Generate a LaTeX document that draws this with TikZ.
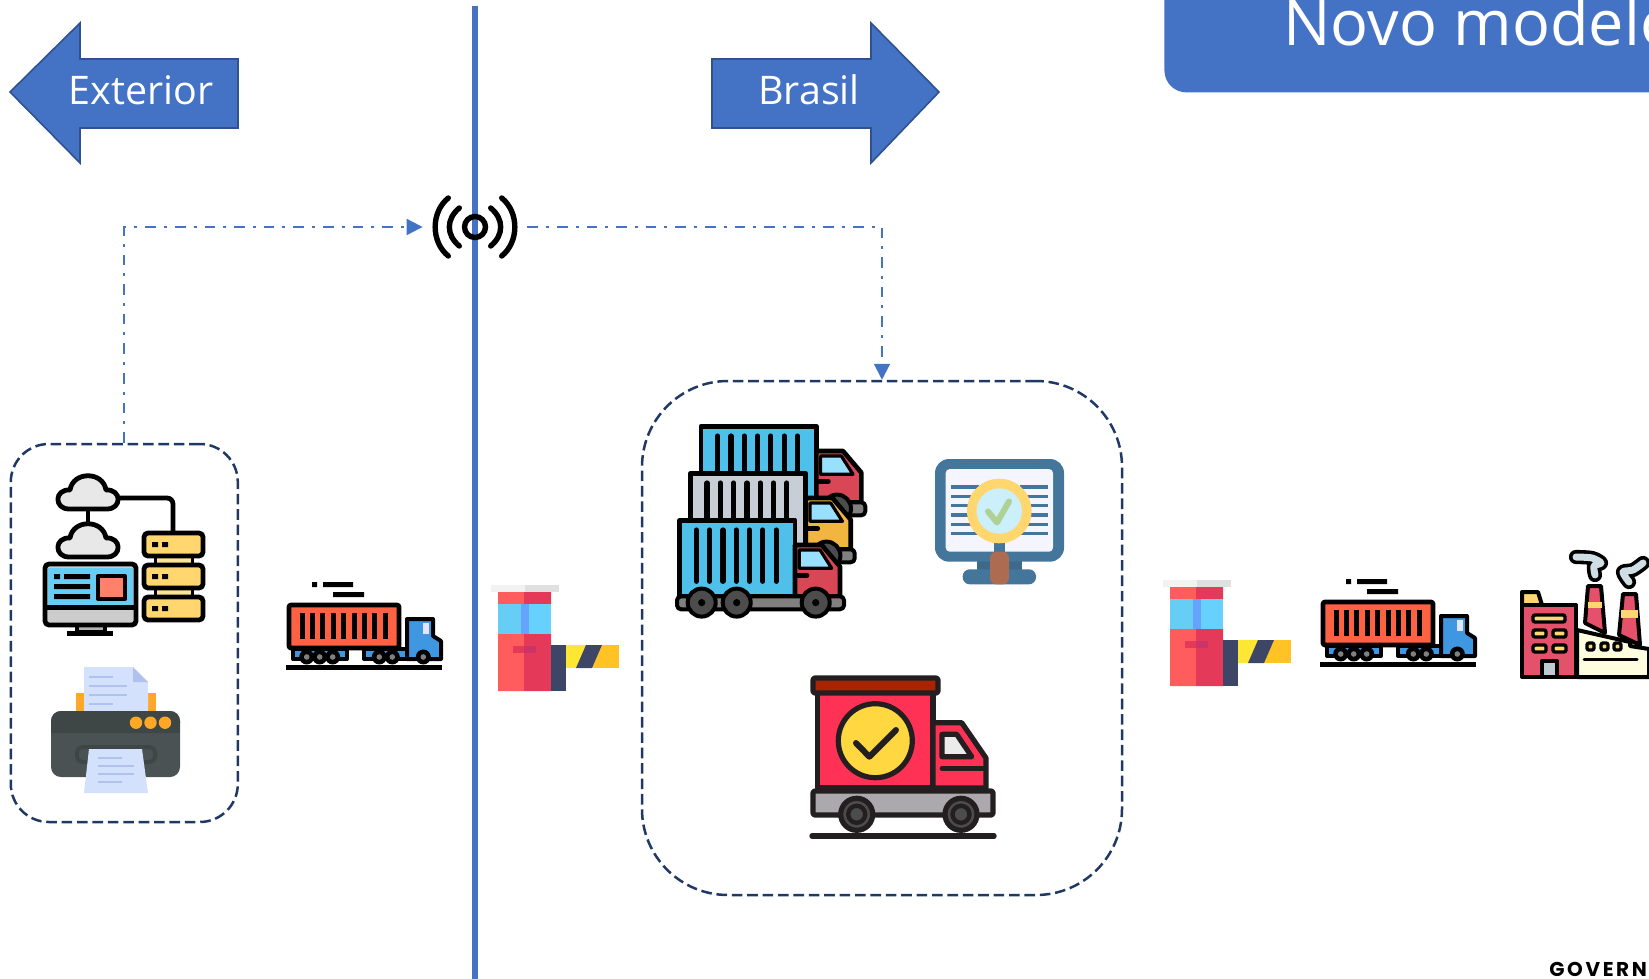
\documentclass[tikz,border=0pt]{standalone}
\usepackage{fontspec}
\setmainfont{Open Sans}
\newfontfamily\logofont[LetterSpace=13]{Poppins}
\usetikzlibrary{arrows.meta,calc}
\definecolor{azul}{HTML}{4472C4}
\definecolor{azulesc}{HTML}{2F528F}
\definecolor{naval}{HTML}{203864}
\definecolor{laranja}{HTML}{FF6243}
\definecolor{cabine}{HTML}{3E97E0}
\definecolor{contaz}{HTML}{4FC0EA}
\definecolor{contcz}{HTML}{C8CED6}
\definecolor{vermelho}{HTML}{D94655}
\definecolor{amarelo}{HTML}{F2B640}
\definecolor{pele}{HTML}{FF5D5D}
\definecolor{rosa}{HTML}{E5395A}
\definecolor{ardosia}{HTML}{3E4668}
\definecolor{papel}{HTML}{D4E1FD}
\definecolor{linhap}{HTML}{AFC2EE}
\definecolor{tinta}{HTML}{FFA726}
\definecolor{monit}{HTML}{44759B}
\definecolor{carvao}{HTML}{231F20}
\definecolor{ouro}{HTML}{FFD76E}
\definecolor{cereja}{HTML}{FF3155}
\definecolor{sol}{HTML}{FFD740}
\definecolor{telha}{HTML}{A82400}
\definecolor{chassi}{HTML}{ABA9AE}
\definecolor{fabric}{HTML}{E5506A}
\definecolor{fumo}{HTML}{CFDDE5}
\definecolor{corpo}{HTML}{4B5253}
\definecolor{tampa}{HTML}{3F4646}
\tikzset{
	seta/.style={draw=azulesc, fill=azul, line width=0.8pt, line join=miter},
	rotulo/.style={text=white, inner sep=0pt, font=\fontsize{19.7}{20}\selectfont},
	grupo/.style={draw=naval, line width=1.25pt, dash pattern=on 5.3pt off 2.4pt, inner sep=0pt},
	sinal/.style={draw=azul, line width=1pt, dash pattern=on 5.3pt off 4pt on 1.5pt off 4pt, -{Triangle[length=8pt,width=8pt]}},
	tr/.style={draw=black, line width=2pt, line join=round},
	tc/.style={draw=carvao, line width=2.6pt, line join=round},
	jan/.style={tr, line width=1.7pt, fill=ouro, rounded corners=1pt},
	pics/caminhao/.style={code={
				\fill (26,0) rectangle (31,5) (37,0) rectangle (67,5) (47,10) rectangle (78,15);
				\fill[black] (0,83) rectangle (156,88);
				\draw[tr,fill=cabine] (7,67) rectangle (61,77) (78,67) rectangle (124,77);
				\draw[tr,fill=cabine] (121,77) -- (121,37) -- (147,37) -- (147,54) -- (155,59) -- (155,77) -- cycle;
				\fill[blue!10] (137,41) rectangle (143,52);
				\draw[tr,line width=2.4pt,fill=laranja,rounded corners=1pt] (3,23) rectangle (113,66);
				\foreach \i in {0,...,8}
				\fill ({13.5+10.4*\i},31) rectangle ({18.5+10.4*\i},57);
				\foreach \i in {20.7,33.7,46.7,93.3,106.3,137.3}{
						\fill (\i,75) circle [radius=7.5];
						\fill[gray] (\i,75) circle [radius=2.8];
					}
			}},
	pics/cancela/.style={code={
				\fill[black!5] (0,0) rectangle (34,7);
				\fill[black!12] (34,0) rectangle (68,7);
				\fill[pele] (7,7) rectangle (33,19) (7,49) rectangle (33,106);
				\fill[rosa] (33,7) rectangle (60,19) (33,49) rectangle (60,106);
				\fill[cyan!60] (7,19) rectangle (33,49);
				\fill[blue!30!cyan!60] (33,19) rectangle (60,49);
				\fill[blue!60!cyan!60] (30,19) rectangle (38,49);
				\fill[rosa] (22,61) rectangle (33,68);
				\fill[purple!80] (33,61) rectangle (45,68);
				\fill[ardosia] (60,60) rectangle (75,106);
				\fill[yellow!85!orange!80] (75,60) rectangle (95,83);
				\fill[orange!55!yellow!85] (101,60) rectangle (128,83);
				\fill[ardosia] (95,60) -- (111,60) -- (101,83) -- (85,83) -- cycle;
			}},
	pics/frota/.style 2 args={code={
				\draw[tr,line width=2.3pt,fill=#1] (4.5,1) rectangle (120,77);
				\foreach \i in {0,...,6}
				\draw[black,line width=2.6pt,line cap=round] ({21.3+13.3*\i},10.7) -- ({21.3+13.3*\i},62);
				\draw[tr,line width=2.3pt,fill=#2] (120,25.7) -- (146.7,25.7) -- (165,47.3) -- (165,77) -- (120,77) -- cycle;
				\draw[tr,line width=1.6pt,fill=blue!30!cyan!40] (124.3,30.7) -- (145,30.7) -- (156.7,49) -- (124.3,49) -- cycle;
				\draw[black,line width=2.4pt,line cap=round] (123,56.3) -- (132,56.3);
				\draw[tr,fill=gray,rounded corners=2pt] (2,77) rectangle (169,90);
				\foreach \i in {26.7,61.7,140.7}{
						\draw[tr,fill=black!70] (\i,83.3) circle [radius=14];
						\fill (\i,83.3) circle [radius=3.6];
					}
			}},
	pics/nuvem/.style={code={
				\draw[tr,line width=2.4pt,fill=black!9] (-19,15) .. controls (-34,15) and (-34,-5) .. (-18,-4) .. controls (-15,-23) and (15,-23) .. (18,-4) .. controls (34,-5) and (34,15) .. (19,15) -- cycle;
			}},
	pics/servidor/.style={code={
				\draw[tr,line width=2.4pt,fill=ouro,rounded corners=2pt] (0,0) rectangle (59,23);
				\fill (8,9) rectangle (14,14) (18,9) rectangle (24,14);
			}}
}

\begin{document}
\begin{tikzpicture}[x=0.5pt,y=-0.5pt]
	\useasboundingbox (0,0) rectangle (1649,979);
	\clip (0,0) rectangle (1649,979);

	\node[fill=azul, rounded corners=11pt, anchor=north west, minimum width=350pt, minimum height=76pt] (titlebox) at (1164,-60) {};
	\node[anchor=base west, text=white, inner sep=0pt, font=\fontsize{31.5}{32}\selectfont] (titletext) at (1283,46) {Novo modelo};

	\draw[seta] (10,92) -- (80,23) -- (80,59) -- (238,59) -- (238,128) -- (80,128) -- (80,163) -- cycle;
	\draw[seta] (939,92) -- (871,23) -- (871,59) -- (712,59) -- (712,128) -- (871,128) -- (871,163) -- cycle;
	\node[rotulo] (exterior) at (141,90) {Exterior};
	\node[rotulo] (brasil) at (809,90) {Brasil};

	\coordinate (linetop) at (475,6);
	\coordinate (linebot) at (475,985);
	\draw[azul, line width=3pt] (linetop) -- (linebot);

	\node[minimum width=52pt, minimum height=35pt, inner sep=0pt] (antena) at (475,227) {};
	\draw[black, line width=2.7pt, line cap=round]
	(antena.center) circle [radius=10.5]
	($(antena.center)+(-15.7,-19)$) .. controls +(-13.3,11) and +(-13.3,-11) .. +(0,38)
	($(antena.center)+(15.7,-19)$) .. controls +(13.3,11) and +(13.3,-11) .. +(0,38)
	($(antena.center)+(-26.7,-29)$) .. controls +(-17.5,14) and +(-17.5,-14) .. +(0,58)
	($(antena.center)+(26.7,-29)$) .. controls +(17.5,14) and +(17.5,-14) .. +(0,58);

	\node[grupo, rounded corners=19pt, minimum width=113.5pt, minimum height=189pt] (origem) at (124.3,633) {};
	\node[grupo, rounded corners=43pt, minimum width=240pt, minimum height=257pt] (recinto) at (882,638) {};

	\draw[sinal] (origem.north) |- (antena.west);
	\draw[sinal] (antena.east) -| (recinto.north);

	% sistemas
	\pic at (88,494) {nuvem};
	\pic at (88,542) {nuvem};
	\draw[black, line width=2.4pt] (88,510) -- (88,523);
	\draw[black, line width=2.4pt, rounded corners=3pt] (118,498) -- (173,498) -- (173,533);
	\fill[ouro!70!white] (155,556) rectangle (192,566) (155,588) rectangle (192,597);
	\draw[black, line width=1.5pt] (155,556) -- (155,597) (192,556) -- (192,597);
	\pic at (144,533) {servidor};
	\pic at (144,565) {servidor};
	\pic at (144,597) {servidor};
	\fill[black] (67,631) rectangle (113,636);
	\draw[tr,fill=black!30] (77,624) rectangle (105,632);
	\draw[tr,line width=2.4pt,fill=black!20,rounded corners=2pt] (45,564) rectangle (136,625);
	\fill[cyan!60!white] (48,568) rectangle (133,605);
	\fill[black] (45,605) rectangle (136,610);
	\fill[black] (54,574) rectangle (60,579) (64,574) rectangle (90,579) (54,584) rectangle (90,589) (54,594) rectangle (90,599);
	\draw[tr,fill=laranja!80!white] (98,576) rectangle (125,599);

	% impressora
	\fill[tinta] (76,693) rectangle (155.5,712);
	\fill[papel] (84,667) -- (133,667) -- (148,682) -- (148,712) -- (84,712) -- cycle;
	\fill[linhap] (133,667) -- (148,682) -- (133,682) -- cycle;
	\foreach \y/\w in {677/24,686/38,695/38,704/24}
	\draw[linhap, line width=1.3pt] (89,\y) -- ++(\w,0);
	\fill[corpo, rounded corners=5pt] (51,711) rectangle (180,777);
	\fill[tampa, rounded corners=5pt] (51,711) rectangle (180,733);
	\fill[tampa] (51,725) rectangle (180,733);
	\foreach \x in {136,150.5,165}
	\fill[tinta] (\x,722.7) circle [radius=6.2];
	\draw[tampa, line width=2pt, rounded corners=3pt] (77,747) rectangle (155,762);
	\fill[papel] (89,749) -- (142,749) -- (148,793) -- (84,793) -- cycle;
	\foreach \y/\w in {758/24,766/36,774/36,782/24}
	\draw[linhap, line width=1.3pt] (98,\y) -- ++(\w,0);

	\pic at (286,582) {caminhao};
	\pic at (491,585) {cancela};

	% frota
	\pic at (696.3,425.3) {frota={contaz}{vermelho}};
	\pic at (685.7,472.3) {frota={contcz}{amarelo}};
	\pic at (675,519.3) {frota={contaz}{vermelho}};

	% monitor
	\fill[monit!90!black] (976.7,560) rectangle (1022,572);
	\fill[monit, rounded corners=7pt] (935,459) rectangle (1064,561.7);
	\fill[blue!4!white, rounded corners=2pt] (945.7,469) rectangle (1053,551.7);
	\fill[monit, rounded corners=3.5pt] (962.7,569.3) rectangle (1036,584.3);
	\foreach \y in {487,496.3,505.7,515,524.3,533.7}
	\draw[monit, line width=1.7pt] (951,\y) -- (979,\y) (1020,\y) -- (1047.5,\y);
	\fill[monit] (994,540) rectangle (1005,555);
	\fill[ouro] (999.3,511) circle [radius=32.3];
	\fill[cyan!20] (999.3,511) circle [radius=22.7];
	\draw[green!55!yellow!40!gray!60, line width=3pt, line cap=round, line join=round] (988,511.5) -- (997,522.5) -- (1009,501.5);
	\fill[brown!70!red!55!gray, rounded corners=3pt] (990,551.7) rectangle (1009,584.3);

	% entrega
	\draw[carvao, line width=2.7pt, line cap=round] (812,836) -- (994,836);
	\draw[tc,fill=cereja] (817.7,692) rectangle (933,788);
	\draw[tc,fill=telha,rounded corners=1pt] (813,678) rectangle (938,693);
	\draw[tc,fill=sol] (875.3,740.7) circle [radius=37];
	\draw[carvao, line width=3pt, line cap=round, line join=round] (856,743) -- (869.3,756.7) -- (896,730);
	\draw[tc,fill=cereja] (933,722.7) -- (961.7,722.7) -- (986,758) -- (986,788) -- (933,788) -- cycle;
	\draw[tc,fill=black!8] (942,734.3) -- (956.7,734.3) -- (971.7,756.7) -- (942,756.7) -- cycle;
	\draw[carvao, line width=2.4pt, line cap=round] (942,768.3) -- (985,768.3);
	\draw[tc,fill=chassi,rounded corners=1pt] (813,791) rectangle (993,815);
	\foreach \x in {856.7,961}{
			\draw[tc,fill=black!70] (\x,814.3) circle [radius=16];
			\draw[carvao, line width=2.2pt] (\x,814.3) circle [radius=8.5];
			\fill[black!70!white] (\x,814.3) circle [radius=2.8];
		}

	\pic at (1163,580) {cancela};
	\pic at (1320,579) {caminhao};

	% fabrica
	\draw[tr,line width=1.8pt,double=fumo,double distance=3.5pt,line cap=round] plot[smooth] coordinates {(1576,557) (1592,558) (1601,563) (1594,566) (1595,575)};
	\draw[tr,line width=1.8pt,double=fumo,double distance=3.5pt,line cap=round] plot[smooth] coordinates {(1643,563) (1633,570) (1623,572) (1629,582)};
	\draw[tr,fill=fabric] (1585,623) -- (1588,586) -- (1601,586) -- (1605,633) -- cycle;
	\fill[ouro] (1588,601.7) rectangle (1602,608.3);
	\draw[tr,fill=fabric] (1619,635) -- (1623,594) -- (1636,594) -- (1640,645) -- cycle;
	\fill[ouro] (1621,610) rectangle (1638,618.3);
	\draw[tr,fill=ouro] (1522,605) -- (1522,592) -- (1538,592) -- (1542,605) -- cycle;
	\draw[tr,fill=fabric] (1522,605) rectangle (1576,677);
	\draw[tr,fill=yellow!12] (1577,630) -- (1630,642) -- (1630,646) -- (1649,649) -- (1649,677) -- (1577,677) -- cycle;
	\draw[jan] (1533,615) rectangle (1565,622);
	\foreach \x in {1533,1553}
	\foreach \y in {630,645}
	\draw[jan] (\x,\y) rectangle ++(13,7);
	\draw[tr,fill=cyan!20!gray!50] (1542,661) rectangle (1557,677);
	\foreach \x in {1587,1601,1614}
	\draw[jan] (\x,643) rectangle ++(7,7);
	\draw[black, line width=1.5pt, line cap=round] (1584,659) -- (1637,659);

	\node[anchor=base west, inner sep=0pt, font=\logofont\bfseries\fontsize{10}{10}\selectfont] (govern) at (1549,976.5) {GOVERN};
\end{tikzpicture}
\end{document}
